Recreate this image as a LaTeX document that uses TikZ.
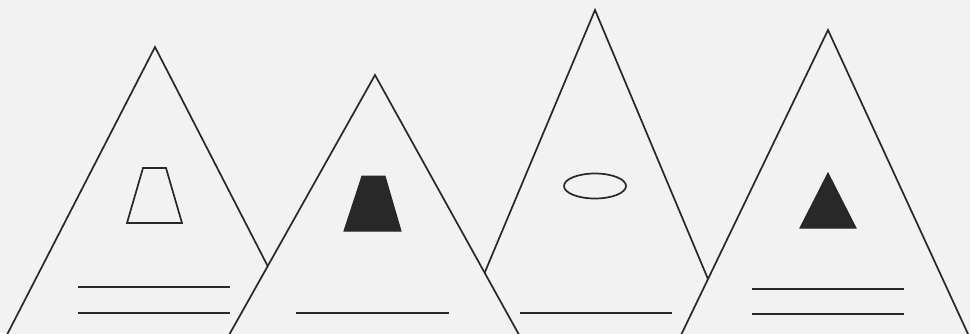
\documentclass[tikz,border=0pt]{standalone}
\begin{document}
\begin{tikzpicture}[x=1pt,y=-1pt,
  bg/.style={fill=paper},
  edge/.style={draw=ink,line width=1.7pt,line join=miter},
  solid shape/.style={fill=ink,draw=ink,line width=1pt}]
\definecolor{paper}{RGB}{242,242,242}
\definecolor{ink}{RGB}{40,40,40}
\fill[paper] (0,0) rectangle (970,333);
\useasboundingbox (0,0) rectangle (970,333);
\clip (0,0) rectangle (970,333);
% triangle 1
\draw[edge,bg] (155,47) -- (316,360) -- (-6,360) -- cycle;
\draw[edge] (143,168) -- (166,168) -- (182,223) -- (127,223) -- cycle;
\draw[edge] (78,287) -- (230,287);
\draw[edge] (78,313) -- (230,313);
% triangle 3
\draw[edge,bg] (595,10) -- (742,360) -- (448,360) -- cycle;
\draw[edge] (595,186) ellipse [x radius=31, y radius=12.5];
\draw[edge] (520,313) -- (672,313);
% triangle 2
\draw[edge,bg] (375,75) -- (533,360) -- (215,360) -- cycle;
\draw[solid shape] (362,176) -- (385,176) -- (401,231) -- (344,231) -- cycle;
\draw[edge] (296,313) -- (449,313);
% triangle 4
\draw[edge,bg] (828,30) -- (980,360) -- (669,360) -- cycle;
\draw[solid shape] (828,173) -- (856,228) -- (800,228) -- cycle;
\draw[edge] (752,289) -- (904,289);
\draw[edge] (752,314) -- (904,314);
\end{tikzpicture}
\end{document}
